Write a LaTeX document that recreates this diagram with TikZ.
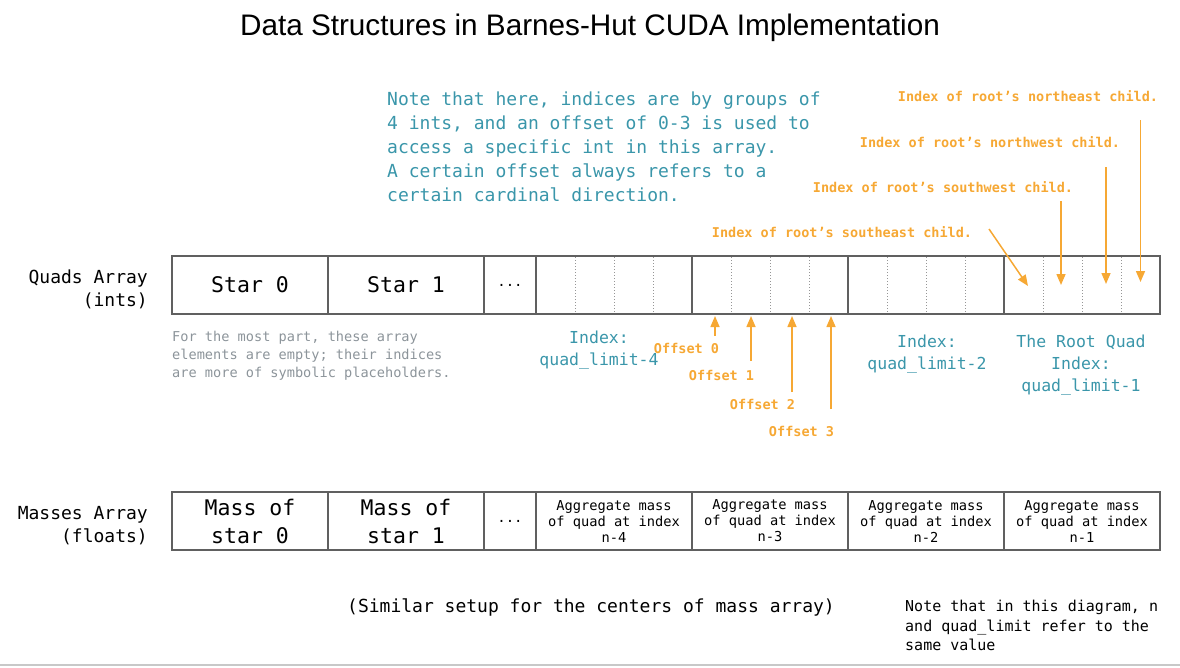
\documentclass[tikz,border=0pt]{standalone}
\usepackage{fontspec}
\setmainfont{Liberation Sans}
\setmonofont{DejaVu Sans Mono}
\usetikzlibrary{arrows.meta}
\definecolor{boxgray}{RGB}{96,96,96}
\definecolor{slotgray}{RGB}{150,150,150}
\definecolor{noteteal}{RGB}{58,150,170}
\definecolor{hintgray}{RGB}{140,148,154}
\definecolor{ptorange}{RGB}{246,168,52}
\definecolor{rulegray}{RGB}{200,200,200}
\newcommand{\mono}[2]{\ttfamily\fontsize{#1}{#2}\selectfont}
\tikzset{
  cellbox/.style={draw=boxgray, line width=1.5pt, minimum height=58pt, inner sep=0pt, outer sep=0pt, anchor=north west, align=center},
  slotline/.style={slotgray, dotted, line width=1pt},
  pointer/.style={ptorange, line width=1.5pt, -{Triangle[length=11pt,width=9pt]}},
  childlbl/.style={text=ptorange, font=\mono{13.5}{16}\bfseries},
  idxlbl/.style={text=noteteal, font=\mono{16.5}{22}, align=center},
  rowlbl/.style={anchor=east, inner sep=0pt, align=right, font=\mono{18}{23}},
}
\begin{document}
\begin{tikzpicture}[x=1pt,y=-1pt]
	\useasboundingbox (0,0) rectangle (1180,667);
	\node[font=\fontsize{29.7}{33}\selectfont] (title) at (590,28) {Data Structures in Barnes-Hut CUDA Implementation};
	\node[anchor=north west, inner sep=0pt, text=noteteal, font=\mono{18}{24}, align=left] (note) at (387,91.5) {Note that here, indices are by groups of\\4 ints, and an offset of 0-3 is used to\\access a specific int in this array.\\A certain offset always refers to a\\certain cardinal direction.};
	% quads array
	\node[rowlbl] (quadslbl) at (148,289.5) {Quads Array\\(ints)};
	\node[cellbox, minimum width=156pt, font=\mono{21.5}{28}] (star0) at (172,256) {Star 0};
	\node[cellbox, minimum width=156pt, font=\mono{21.5}{28}] (star1) at (328,256) {Star 1};
	\node[cellbox, minimum width=52pt, font=\mono{14}{16}] (qdots) at (484,256) {...};
	\node[cellbox, minimum width=156pt] (q4) at (536,256) {};
	\node[cellbox, minimum width=156pt] (q3) at (692,256) {};
	\node[cellbox, minimum width=156pt] (q2) at (848,256) {};
	\node[cellbox, minimum width=156pt] (q1) at (1004,256) {};
	\foreach \x in {536,692,848,1004}
		\foreach \k in {1,2,3}
			\draw[slotline] (\x+\k*39,257) -- (\x+\k*39,313);
	\node[anchor=north west, inner sep=0pt, text=hintgray, font=\mono{13.6}{18}, align=left] (hint) at (172,331) {For the most part, these array\\elements are empty; their indices\\are more of symbolic placeholders.};
	\node[idxlbl] (idx4) at (599,350) {Index:\\quad\_limit-4};
	\node[idxlbl] (idx2) at (927,354) {Index:\\quad\_limit-2};
	\node[idxlbl] (idx1) at (1081,365) {The Root Quad\\Index:\\quad\_limit-1};
	% offsets inside one quad
	\node[childlbl] (off0) at (686.5,348) {Offset 0};
	\node[childlbl] (off1) at (721.5,375) {Offset 1};
	\node[childlbl] (off2) at (762.5,404) {Offset 2};
	\node[childlbl] (off3) at (801.5,431) {Offset 3};
	\foreach \i/\x/\y in {0/715/336,1/751/361,2/792/392,3/831/409} {
		\coordinate (otail\i) at (\x,\y);
		\coordinate (otip\i) at (\x,316);
		\draw[pointer] (otail\i) -- (otip\i);
	}
	% children of the root
	\node[childlbl] (ne) at (1028,96) {Index of root’s northeast child.};
	\node[childlbl] (nw) at (990,142) {Index of root’s northwest child.};
	\node[childlbl] (sw) at (943,187) {Index of root’s southwest child.};
	\node[childlbl] (se) at (842,232) {Index of root’s southeast child.};
	\coordinate (netail) at (1140.5,120); \coordinate (netip) at (1140.5,282);
	\coordinate (nwtail) at (1106,167); \coordinate (nwtip) at (1106,284);
	\coordinate (swtail) at (1061,201); \coordinate (swtip) at (1061,285);
	\coordinate (setail) at (989,229); \coordinate (setip) at (1028,286);
	\draw[pointer] (netail) -- (netip);
	\draw[pointer] (nwtail) -- (nwtip);
	\draw[pointer] (swtail) -- (swtip);
	\draw[pointer] (setail) -- (setip);
	% masses array
	\node[rowlbl] (masslbl) at (148,525.5) {Masses Array\\(floats)};
	\node[cellbox, minimum width=156pt, font=\mono{21.5}{28}] (mass0) at (172,492) {Mass of\\star 0};
	\node[cellbox, minimum width=156pt, font=\mono{21.5}{28}] (mass1) at (328,492) {Mass of\\star 1};
	\node[cellbox, minimum width=52pt, font=\mono{14}{16}] (mdots) at (484,492) {...};
	\node[cellbox, minimum width=156pt, font=\mono{13.7}{16}] (m4) at (536,492) {Aggregate mass\\of quad at index\\n-4};
	\node[cellbox, minimum width=156pt, font=\mono{13.7}{16}] (m3) at (692,492) {Aggregate mass\\of quad at index\\n-3};
	\node[cellbox, minimum width=156pt, font=\mono{13.7}{16}] (m2) at (848,492) {Aggregate mass\\of quad at index\\n-2};
	\node[cellbox, minimum width=156pt, font=\mono{13.7}{16}] (m1) at (1004,492) {Aggregate mass\\of quad at index\\n-1};
	\node[font=\mono{18}{22}] (similar) at (591,607) {(Similar setup for the centers of mass array)};
	\node[anchor=north west, inner sep=0pt, font=\mono{15}{19.5}, align=left] (samenote) at (905,600) {Note that in this diagram, n\\and quad\_limit refer to the\\same value};
	\draw[rulegray, line width=1.5pt] (0,665) -- (1180,665);
\end{tikzpicture}
\end{document}
